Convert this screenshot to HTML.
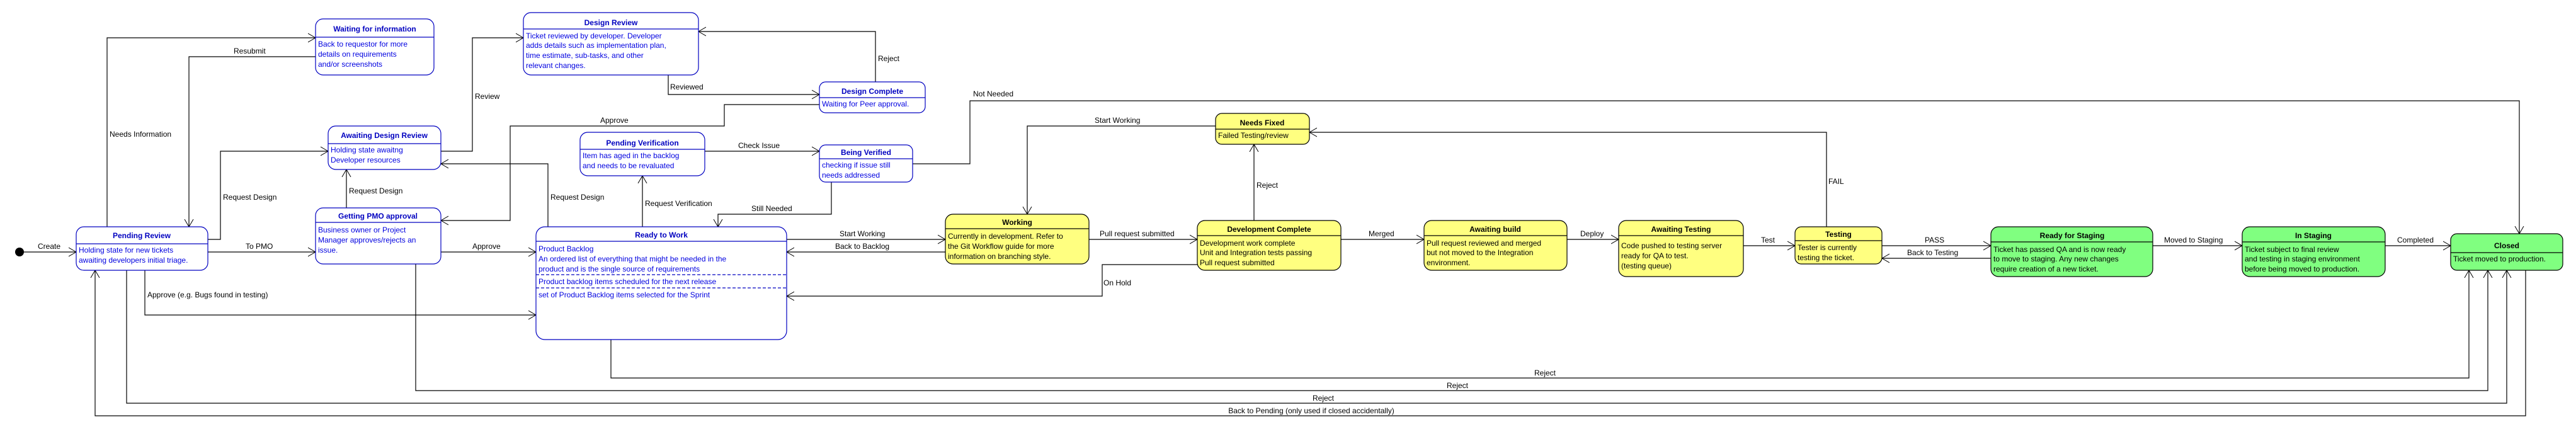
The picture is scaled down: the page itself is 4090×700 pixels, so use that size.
<!DOCTYPE html>
<html><head><meta charset="utf-8"><style>
html,body{margin:0;padding:0;background:#fff;}
svg{display:block;font-family:"Liberation Sans",Arial,sans-serif;}
.t{font-size:12px;font-weight:bold;text-anchor:middle;}
.b{font-size:12px;}
.l{font-size:12px;fill:#000;}
.bl rect{fill:#fff;stroke:#0000c0;stroke-width:1.2;}
.bl line{stroke:#0000c0;stroke-width:1.2;}
.bl text{fill:#0000e0;}
.bl .t{fill:#0000c0;}
.ye rect{fill:#ffff80;stroke:#000;stroke-width:1.2;}
.gr rect{fill:#80ff80;stroke:#000;stroke-width:1.2;}
.ye line,.gr line{stroke:#000;stroke-width:1.2;}
.ye text,.gr text{fill:#000;}
path.c{fill:none;stroke:#000;stroke-width:1.2;}
</style></head><body>
<svg width="4090" height="700" viewBox="0 0 4090 700" xmlns="http://www.w3.org/2000/svg">
<defs>
<marker id="a" markerUnits="userSpaceOnUse" markerWidth="14" markerHeight="16" refX="12" refY="8" orient="auto">
<path d="M0,1 L12,8 L0,15" fill="none" stroke="#000" stroke-width="1"/>
</marker>
</defs>

<circle cx="31" cy="400" r="7" fill="#000"/>
<path class="c" d="M38,400 H121" marker-end="url(#a)"/>
<text class="l" x="60" y="395">Create</text>

<path class="c" d="M170,360 V60 H501" marker-end="url(#a)"/>
<text class="l" x="174" y="217">Needs Information</text>
<path class="c" d="M501,90 H300 V360" marker-end="url(#a)"/>
<text class="l" x="371" y="85">Resubmit</text>
<path class="c" d="M330,380 H350 V240 H521" marker-end="url(#a)"/>
<text class="l" x="354" y="317">Request Design</text>
<path class="c" d="M550,330 V269" marker-end="url(#a)"/>
<text class="l" x="554" y="307">Request Design</text>
<path class="c" d="M700,240 H750 V60 H831" marker-end="url(#a)"/>
<text class="l" x="754" y="157">Review</text>
<path class="c" d="M1301,166 H1150 V200 H810 V350 H700" marker-end="url(#a)"/>
<text class="l" x="953" y="195">Approve</text>
<path class="c" d="M870,360 V260 H700" marker-end="url(#a)"/>
<text class="l" x="874" y="317">Request Design</text>
<path class="c" d="M330,400 H501" marker-end="url(#a)"/>
<text class="l" x="390" y="395">To PMO</text>
<path class="c" d="M700,400 H851" marker-end="url(#a)"/>
<text class="l" x="750" y="395">Approve</text>
<path class="c" d="M230,429 V500 H851" marker-end="url(#a)"/>
<text class="l" x="234" y="472">Approve (e.g. Bugs found in testing)</text>

<path class="c" d="M1390,130 V50 H1109" marker-end="url(#a)"/>
<text class="l" x="1394" y="97">Reject</text>
<path class="c" d="M1061,119 V150 H1301" marker-end="url(#a)"/>
<text class="l" x="1064" y="142">Reviewed</text>
<path class="c" d="M1119,240 H1301" marker-end="url(#a)"/>
<text class="l" x="1172" y="235">Check Issue</text>
<path class="c" d="M1020,360 V279" marker-end="url(#a)"/>
<text class="l" x="1024" y="327">Request Verification</text>
<path class="c" d="M1320,289 V340 H1140 V360" marker-end="url(#a)"/>
<text class="l" x="1193" y="335">Still Needed</text>
<path class="c" d="M1449,260 H1540 V160 H4000 V371" marker-end="url(#a)"/>
<text class="l" x="1545" y="153">Not Needed</text>

<path class="c" d="M1930,200 H1631 V340" marker-end="url(#a)"/>
<text class="l" x="1738" y="195">Start Working</text>
<path class="c" d="M1249,380 H1501" marker-end="url(#a)"/>
<text class="l" x="1333" y="375">Start Working</text>
<path class="c" d="M1501,400 H1249" marker-end="url(#a)"/>
<text class="l" x="1326" y="395">Back to Backlog</text>
<path class="c" d="M1729,380 H1901" marker-end="url(#a)"/>
<text class="l" x="1746" y="375">Pull request submitted</text>
<path class="c" d="M1901,420 H1750 V470 H1249" marker-end="url(#a)"/>
<text class="l" x="1752" y="453">On Hold</text>
<path class="c" d="M1991,350 V229" marker-end="url(#a)"/>
<text class="l" x="1995" y="298">Reject</text>
<path class="c" d="M2129,380 H2261" marker-end="url(#a)"/>
<text class="l" x="2173" y="375">Merged</text>
<path class="c" d="M2488,380 H2570" marker-end="url(#a)"/>
<text class="l" x="2509" y="375">Deploy</text>
<path class="c" d="M2768,390 H2850" marker-end="url(#a)"/>
<text class="l" x="2796" y="385">Test</text>
<path class="c" d="M2900,360 V210 H2079" marker-end="url(#a)"/>
<text class="l" x="2903" y="292">FAIL</text>
<path class="c" d="M2988,390 H3161" marker-end="url(#a)"/>
<text class="l" x="3056" y="385">PASS</text>
<path class="c" d="M3161,410 H2988" marker-end="url(#a)"/>
<text class="l" x="3028" y="405">Back to Testing</text>
<path class="c" d="M3418,390 H3560" marker-end="url(#a)"/>
<text class="l" x="3436" y="385">Moved to Staging</text>
<path class="c" d="M3787,390 H3891" marker-end="url(#a)"/>
<text class="l" x="3806" y="385">Completed</text>

<path class="c" d="M970,539 V600 H3920 V429" marker-end="url(#a)"/>
<text class="l" x="2436" y="596">Reject</text>
<path class="c" d="M660,419 V620 H3950 V429" marker-end="url(#a)"/>
<text class="l" x="2297" y="616">Reject</text>
<path class="c" d="M201,429 V640 H3980 V429" marker-end="url(#a)"/>
<text class="l" x="2084" y="636">Reject</text>
<path class="c" d="M4010,429 V660 H151 V429" marker-end="url(#a)"/>
<text class="l" x="2082" y="656" text-anchor="middle">Back to Pending (only used if closed accidentally)</text>

<g class="bl">
<rect x="121" y="360" width="209" height="69" rx="12"/><line x1="121" y1="387" x2="330" y2="387"/>
<text class="t" x="225" y="378">Pending Review</text>
<text class="b" x="125" y="401">Holding state for new tickets</text>
<text class="b" x="125" y="417">awaiting developers initial triage.</text>

<rect x="501" y="30" width="188" height="89" rx="12"/><line x1="501" y1="59" x2="689" y2="59"/>
<text class="t" x="595" y="50">Waiting for information</text>
<text class="b" x="505" y="74">Back to requestor for more</text>
<text class="b" x="505" y="90">details on requirements</text>
<text class="b" x="505" y="106">and/or screenshots</text>

<rect x="521" y="200" width="179" height="69" rx="12"/><line x1="521" y1="228" x2="700" y2="228"/>
<text class="t" x="610" y="219">Awaiting Design Review</text>
<text class="b" x="525" y="242">Holding state awaitng</text>
<text class="b" x="525" y="258">Developer resources</text>

<rect x="501" y="330" width="199" height="89" rx="12"/><line x1="501" y1="353" x2="700" y2="353"/>
<text class="t" x="600" y="347">Getting PMO approval</text>
<text class="b" x="505" y="369">Business owner or Project</text>
<text class="b" x="505" y="385">Manager approves/rejects an</text>
<text class="b" x="505" y="401">issue.</text>

<rect x="831" y="20" width="278" height="99" rx="12"/><line x1="831" y1="46" x2="1109" y2="46"/>
<text class="t" x="970" y="40">Design Review</text>
<text class="b" x="835" y="61">Ticket reviewed by developer. Developer</text>
<text class="b" x="835" y="76">adds details such as implementation plan,</text>
<text class="b" x="835" y="92">time estimate, sub-tasks, and other</text>
<text class="b" x="835" y="108">relevant changes.</text>

<rect x="1301" y="130" width="168" height="49" rx="10"/><line x1="1301" y1="155" x2="1469" y2="155"/>
<text class="t" x="1385" y="149">Design Complete</text>
<text class="b" x="1305" y="169">Waiting for Peer approval.</text>

<rect x="921" y="210" width="198" height="69" rx="12"/><line x1="921" y1="237" x2="1119" y2="237"/>
<text class="t" x="1020" y="231">Pending Verification</text>
<text class="b" x="925" y="251">Item has aged in the backlog</text>
<text class="b" x="925" y="267">and needs to be revaluated</text>

<rect x="1301" y="230" width="148" height="59" rx="10"/><line x1="1301" y1="252" x2="1449" y2="252"/>
<text class="t" x="1375" y="246">Being Verified</text>
<text class="b" x="1305" y="266">checking if issue still</text>
<text class="b" x="1305" y="282">needs addressed</text>

<rect x="851" y="360" width="398" height="179" rx="14"/><line x1="851" y1="383" x2="1249" y2="383"/>
<text class="t" x="1050" y="377">Ready to Work</text>
<text class="b" x="855" y="399">Product Backlog</text>
<text class="b" x="855" y="415">An ordered list of everything that might be needed in the</text>
<text class="b" x="855" y="431">product and is the single source of requirements</text>
<line x1="851" y1="436" x2="1249" y2="436" stroke-dasharray="5,3"/>
<text class="b" x="855" y="451">Product backlog items scheduled for the next release</text>
<line x1="851" y1="457" x2="1249" y2="457" stroke-dasharray="5,3"/>
<text class="b" x="855" y="472">set of Product Backlog items selected for the Sprint</text>
</g>

<g class="ye">
<rect x="1501" y="340" width="228" height="79" rx="12"/><line x1="1501" y1="363" x2="1729" y2="363"/>
<text class="t" x="1615" y="357">Working</text>
<text class="b" x="1505" y="379">Currently in development. Refer to</text>
<text class="b" x="1505" y="395">the Git Workflow guide for more</text>
<text class="b" x="1505" y="411">information on branching style.</text>

<rect x="1930" y="180" width="149" height="49" rx="10"/><line x1="1930" y1="205" x2="2079" y2="205"/>
<text class="t" x="2004" y="199">Needs Fixed</text>
<text class="b" x="1934" y="219">Failed Testing/review</text>

<rect x="1901" y="350" width="228" height="79" rx="12"/><line x1="1901" y1="374" x2="2129" y2="374"/>
<text class="t" x="2015" y="368">Development Complete</text>
<text class="b" x="1905" y="390">Development work complete</text>
<text class="b" x="1905" y="405">Unit and Integration tests passing</text>
<text class="b" x="1905" y="421">Pull request submitted</text>

<rect x="2261" y="350" width="227" height="79" rx="12"/><line x1="2261" y1="374" x2="2488" y2="374"/>
<text class="t" x="2374" y="368">Awaiting build</text>
<text class="b" x="2265" y="390">Pull request reviewed and merged</text>
<text class="b" x="2265" y="405">but not moved to the Integration</text>
<text class="b" x="2265" y="421">environment.</text>

<rect x="2570" y="350" width="198" height="89" rx="12"/><line x1="2570" y1="374" x2="2768" y2="374"/>
<text class="t" x="2669" y="368">Awaiting Testing</text>
<text class="b" x="2574" y="394">Code pushed to testing server</text>
<text class="b" x="2574" y="410">ready for QA to test.</text>
<text class="b" x="2574" y="426">(testing queue)</text>

<rect x="2850" y="360" width="138" height="59" rx="10"/><line x1="2850" y1="382" x2="2988" y2="382"/>
<text class="t" x="2919" y="376">Testing</text>
<text class="b" x="2854" y="397">Tester is currently</text>
<text class="b" x="2854" y="413">testing the ticket.</text>
</g>

<g class="gr">
<rect x="3161" y="360" width="257" height="79" rx="12"/><line x1="3161" y1="384" x2="3418" y2="384"/>
<text class="t" x="3290" y="378">Ready for Staging</text>
<text class="b" x="3165" y="400">Ticket has passed QA and is now ready</text>
<text class="b" x="3165" y="415">to move to staging. Any new changes</text>
<text class="b" x="3165" y="431">require creation of a new ticket.</text>

<rect x="3560" y="360" width="227" height="79" rx="12"/><line x1="3560" y1="384" x2="3787" y2="384"/>
<text class="t" x="3673" y="378">In Staging</text>
<text class="b" x="3564" y="400">Ticket subject to final review</text>
<text class="b" x="3564" y="415">and testing in staging environment</text>
<text class="b" x="3564" y="431">before being moved to production.</text>

<rect x="3891" y="371" width="178" height="58" rx="10"/><line x1="3891" y1="401" x2="4069" y2="401"/>
<text class="t" x="3980" y="394">Closed</text>
<text class="b" x="3895" y="415">Ticket moved to production.</text>
</g>
</svg>
</body></html>
